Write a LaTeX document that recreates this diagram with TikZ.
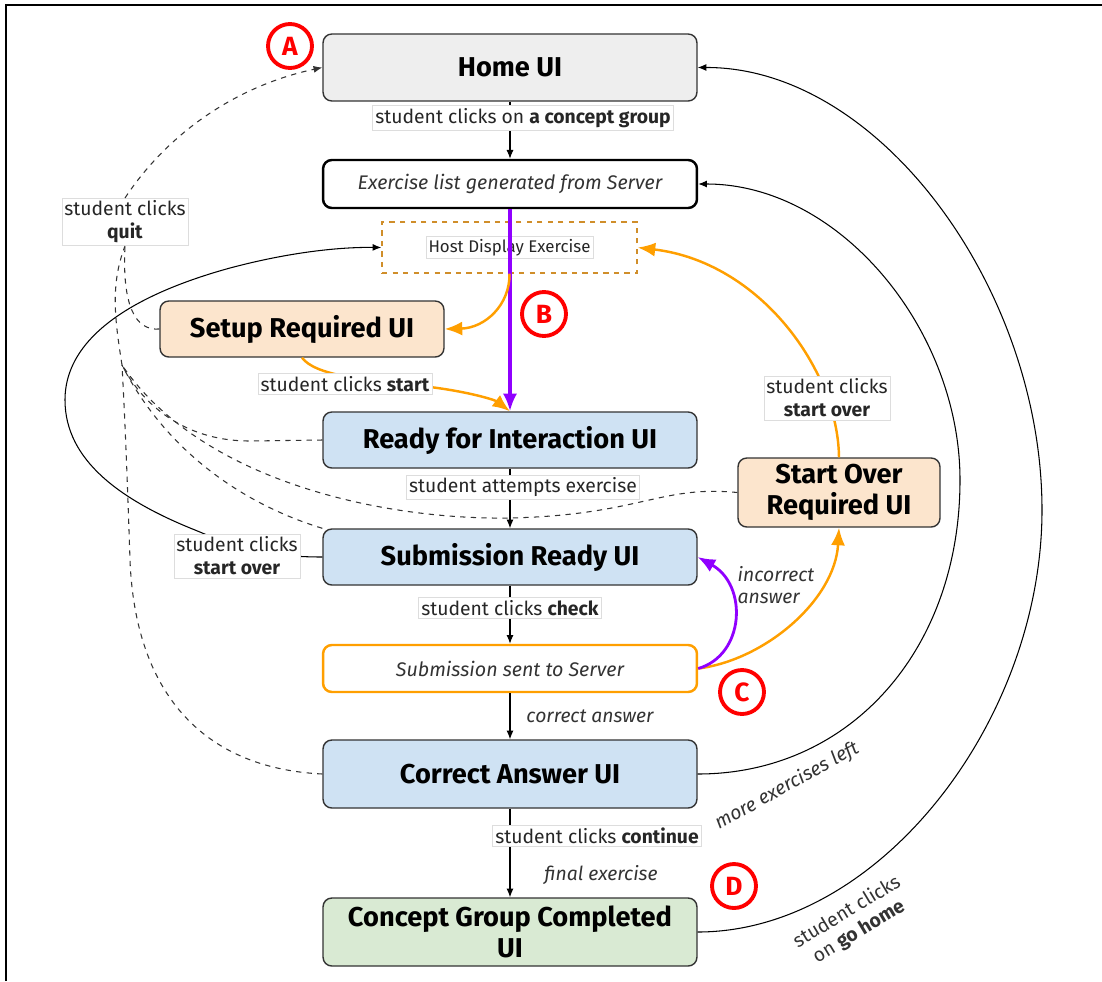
\documentclass[tikz,border=0pt]{standalone}
\usepackage{fontspec}
\setmainfont{Fira Sans}
\usetikzlibrary{arrows.meta}
\definecolor{homegray}{HTML}{EEEEEE}
\definecolor{peach}{HTML}{FCE5CD}
\definecolor{paleblue}{HTML}{CFE2F3}
\definecolor{palegreen}{HTML}{D9EAD3}
\definecolor{boxline}{HTML}{333333}
\definecolor{hostline}{HTML}{D08E2A}
\definecolor{flow}{HTML}{FF9F00}
\definecolor{violetline}{HTML}{9000FF}
\definecolor{lblline}{HTML}{DDDDDD}
\begin{document}
\begin{tikzpicture}[x=0.02cm,y=-0.02cm,>={Latex[length=5pt,width=4pt]},
ui/.style={draw=boxline,rounded corners=5pt,line width=0.8pt,minimum width=7.48cm,minimum height=1.12cm,align=center,inner sep=2pt,font=\fontsize{15.5}{18}\selectfont\bfseries},
srv/.style={rounded corners=5pt,minimum width=7.48cm,inner sep=2pt,font=\fontsize{11.2}{13}\selectfont\itshape,text=black!80},
lbl/.style={fill=white,draw=lblline,line width=0.3pt,inner sep=1.5pt,align=center,text=black!85,font=\fontsize{11}{13}\selectfont},
note/.style={inner sep=1pt,align=left,text=black!80,font=\fontsize{11}{13}\selectfont\itshape},
badge/.style={circle,draw=red,line width=2.2pt,text=red,minimum size=0.88cm,inner sep=0pt,font=\fontsize{15}{15}\selectfont\bfseries},
big/.style={-{Latex[length=10pt,width=8pt]},line width=1.4pt},
quitline/.style={dashed,line width=0.6pt,black!80}]
\useasboundingbox (0,0) rectangle (1102,981);
% cadre
\draw[line width=1pt] (6,981)--(6,5)--(1102,5);
% les boites
\node[ui,fill=homegray,minimum height=1.34cm] (home) at (510,67.5) {Home UI};
\node[srv,draw=black,line width=1.4pt,minimum height=0.96cm] (exlist) at (510,184) {Exercise list generated from Server};
\node[draw=hostline,dashed,line width=0.8pt,minimum width=5.1cm,minimum height=1.02cm] (host) at (509.5,247.5) {};
\node[lbl,font=\fontsize{9.6}{11}\selectfont] (hostlbl) at (host) {Host Display Exercise};
\node[ui,fill=peach,minimum width=5.68cm] (setup) at (302,329) {Setup Required UI};
\node[ui,fill=paleblue] (ready) at (510,440) {Ready for Interaction UI};
\node[ui,fill=peach,minimum width=4.04cm,minimum height=1.38cm] (startover) at (839,492.5) {Start Over\\Required UI};
\node[ui,fill=paleblue] (subready) at (510,557) {Submission Ready UI};
\node[srv,draw=flow,line width=1.4pt,minimum height=0.94cm] (subsent) at (510,668.5) {Submission sent to Server};
\node[ui,fill=paleblue,minimum height=1.36cm] (correct) at (510,774) {Correct Answer UI};
\node[ui,fill=palegreen,minimum height=1.36cm] (done) at (510,932) {Concept Group Completed\\UI};
% les lettres
\node[badge] (ba) at (290,46) {A};
\node[badge] (bb) at (544,314) {B};
\node[badge] (bc) at (742,692) {C};
\node[badge] (bd) at (734,886) {D};
% chemin principal
\draw[->,line width=0.6pt] (home)--(exlist);
\node[lbl] (l1) at (523,118) {student clicks on \textbf{a concept group}};
\draw[big,violetline,line width=1.9pt] (exlist)--(ready);
\draw[->,line width=0.6pt] (ready)--(subready);
\node[lbl] (l2) at (523,487) {student attempts exercise};
\draw[->,line width=0.6pt] (subready)--(subsent);
\node[lbl] (l3) at (510,608) {student clicks \textbf{check}};
\draw[->,line width=0.6pt] (subsent)--(correct);
\node[note] (l4) at (590,716) {correct answer};
\draw[->,line width=0.6pt] (correct)--(done);
\node[lbl] (l5) at (597,836) {student clicks \textbf{continue}};
\node[note] (l6) at (601,875) {final exercise};
% fleches oranges
\draw[big,flow] (host.south) .. controls (510,305) and (485,328) .. (setup.east);
\draw[big,flow] (setup.south) .. controls (315,375) and (360,380) .. (430,387) .. controls (470,392) and (495,400) .. (ready.north);
\node[lbl] (l7) at (345,384) {student clicks \textbf{start}};
\draw[big,flow] (subsent.east) .. controls (765,660) and (835,600) .. (startover.south);
\draw[big,flow] (startover.north) .. controls (838,370) and (760,262) .. (host.east);
\node[lbl] (l8) at (827,398) {student clicks\\\textbf{start over}};
\draw[big,violetline,line width=1.6pt] (subsent.east) .. controls (745,655) and (748,585) .. (subready.east);
\node[note] (l9) at (776,585) {incorrect\\answer};
% retour a droite
\draw[->,line width=0.6pt] (correct.east) .. controls (850,774) and (960,650) .. (960,480) .. controls (960,330) and (840,184) .. (exlist.east);
\node[note,rotate=29] (l10) at (787,786) {more exercises left};
\draw[->,line width=0.6pt] (done.east) .. controls (880,932) and (1042,720) .. (1042,510) .. controls (1042,290) and (880,67) .. (home.east);
\node[note,rotate=31,align=center,font=\fontsize{11}{13}\selectfont] (l11) at (853,922) {student clicks\\on \textbf{go home}};
% recommencer (gauche)
\draw[->,line width=0.6pt] (subready.west) .. controls (250,557) and (220,540) .. (195,530) .. controls (120,500) and (65,460) .. (65,400) .. controls (65,330) and (150,290) .. (230,268) .. controls (290,252) and (340,247) .. (host.west);
\node[lbl] (l12) at (237,556) {student clicks\\\textbf{start over}};
% quitter
\node[lbl] (quit) at (125,222) {student clicks\\\textbf{quit}};
\coordinate (qj) at (122,365);
\draw[quitline,->] (quit.north) .. controls (170,130) and (240,85) .. (home.west);
\draw[quitline] (qj) .. controls (115,320) and (110,285) .. (quit.south);
\draw[quitline] (setup.west) .. controls (135,331) and (122,305) .. (quit.south);
\draw[quitline] (ready.west) -- (250,441) .. controls (180,441) and (140,400) .. (qj);
\draw[quitline] (subready.north west) .. controls (230,500) and (160,440) .. (qj);
\draw[quitline] (startover.west) .. controls (660,485) and (640,515) .. (510,518) .. controls (380,520) and (200,480) .. (qj);
\draw[quitline] (correct.west) .. controls (200,768) and (135,690) .. (130,560) .. controls (127,470) and (125,420) .. (qj);
\end{tikzpicture}
\end{document}
